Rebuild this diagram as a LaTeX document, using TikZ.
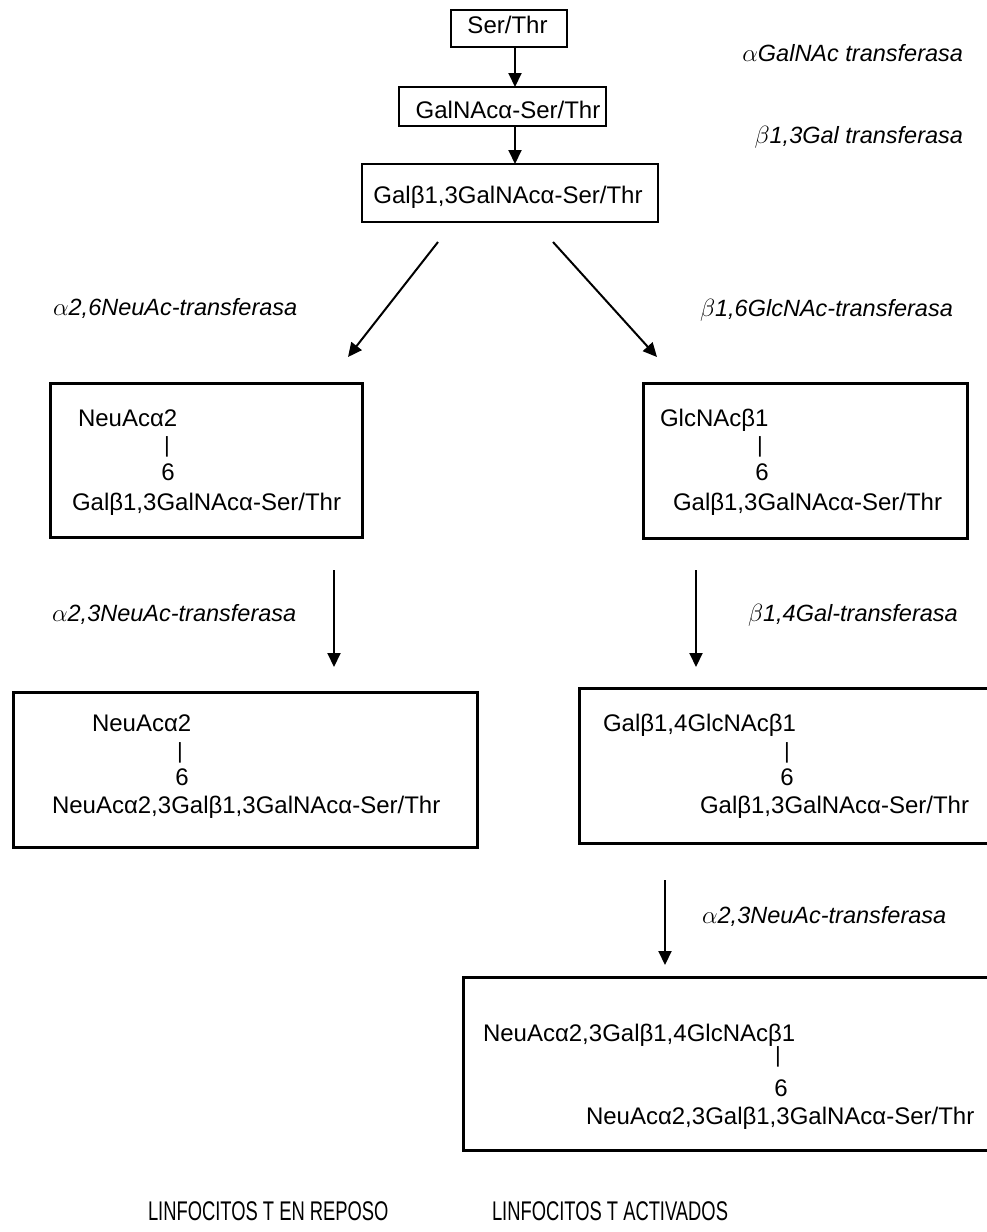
\documentclass[tikz,border=0pt]{standalone}
\usepackage{fontspec}
\usepackage{graphicx}
\setmainfont{Liberation Sans}
\usetikzlibrary{arrows.meta}
\begin{document}
\begin{tikzpicture}[x=1pt,y=-1pt,
  every node/.style={inner sep=0pt, outer sep=0pt, font=\fontsize{24}{28}\selectfont},
  smallbox/.style={draw, line width=1.5pt},
  bigbox/.style={draw, line width=3pt},
  arr/.style={line width=2pt, -{Triangle[length=14pt,width=13pt]}},
  lbl/.style={font=\fontsize{23.5}{28}\selectfont\itshape},
  txt/.style={anchor=base west},
  ctxt/.style={anchor=base},
  bar/.style={font=\fontsize{22}{24}\selectfont, anchor=center},
  cond/.style={anchor=base west, font=\fontsize{27}{30}\selectfont},
]
\useasboundingbox (0,0) rectangle (986,1232);

% top boxes
\node[smallbox, minimum width=116pt, minimum height=37pt] (s1) at (509,28.5) {};
\node[ctxt] (s1t) at (507.5,33.5) {Ser/Thr};
\node[smallbox, minimum width=207pt, minimum height=39pt] (s2) at (502.5,106.5) {};
\node[ctxt] (s2t) at (508,118.5) {GalNAcα-Ser/Thr};
\node[smallbox, minimum width=296pt, minimum height=58pt] (s3) at (510,193) {};
\node[ctxt] (s3t) at (508,203.5) {Galβ1,3GalNAcα-Ser/Thr};

\draw[arr] ([xshift=6pt]s1.south) -- ([xshift=6pt]s1.south |- s2.north);
\draw[arr] ([xshift=12.5pt]s2.south) -- ([xshift=12.5pt]s2.south |- s3.north);

\node[lbl, anchor=base east] (l1) at (963,61) {$\alpha$GalNAc transferasa};
\node[lbl, anchor=base east] (l2) at (963,143) {$\beta$1,3Gal transferasa};

% diagonal arrows
\coordinate (dl1) at (438,242);
\coordinate (dl2) at (348,357);
\coordinate (dr1) at (553,242);
\coordinate (dr2) at (657,357);
\draw[arr] (dl1) -- (dl2);
\draw[arr] (dr1) -- (dr2);
\node[lbl, anchor=base west] (l3) at (53,315) {$\alpha$2,6NeuAc-transferasa};
\node[lbl, anchor=base west] (l4) at (700,316) {$\beta$1,6GlcNAc-transferasa};

% second row
\node[bigbox, minimum width=312pt, minimum height=154pt] (b1) at (206,460) {};
\node[txt] (b1a) at (78,426.5) {NeuAcα2};
\node[bar] (b1b) at (167,447) {|};
\node[ctxt] (b1c) at (168,480.5) {6};
\node[txt] (b1d) at (72,510.5) {Galβ1,3GalNAcα-Ser/Thr};

\node[bigbox, minimum width=324pt, minimum height=155pt] (b2) at (805,460.5) {};
\node[txt] (b2a) at (660,426.5) {GlcNAcβ1};
\node[bar] (b2b) at (760,447) {|};
\node[ctxt] (b2c) at (762,480.5) {6};
\node[txt] (b2d) at (673,510.5) {Galβ1,3GalNAcα-Ser/Thr};

% vertical arrows
\coordinate (vl1) at (334,570);
\coordinate (vl2) at (334,667);
\coordinate (vr1) at (696,570);
\coordinate (vr2) at (696,667);
\draw[arr] (vl1) -- (vl2);
\draw[arr] (vr1) -- (vr2);
\node[lbl, anchor=base west] (l5) at (52,621) {$\alpha$2,3NeuAc-transferasa};
\node[lbl, anchor=base west] (l6) at (748,621) {$\beta$1,4Gal-transferasa};

% third row
\node[bigbox, minimum width=464pt, minimum height=155pt] (b3) at (245,769.5) {};
\node[txt] (b3a) at (92,731.5) {NeuAcα2};
\node[bar] (b3b) at (180,753) {|};
\node[ctxt] (b3c) at (182,785.5) {6};
\node[txt] (b3d) at (52,813.5) {NeuAcα2,3Galβ1,3GalNAcα-Ser/Thr};

\node[bigbox, minimum width=411pt, minimum height=155pt] (b4) at (784.5,765.5) {};
\node[txt] (b4a) at (603,731.5) {Galβ1,4GlcNAcβ1};
\node[bar] (b4b) at (787,753) {|};
\node[ctxt] (b4c) at (787,785.5) {6};
\node[txt] (b4d) at (700,813.5) {Galβ1,3GalNAcα-Ser/Thr};

\coordinate (vb1) at (665,880);
\coordinate (vb2) at (665,965);
\draw[arr] (vb1) -- (vb2);
\node[lbl, anchor=base west] (l7) at (702,923) {$\alpha$2,3NeuAc-transferasa};

% last box
\node[bigbox, minimum width=527pt, minimum height=173pt] (b5) at (726.5,1063.5) {};
\node[txt] (b5a) at (483,1041.5) {NeuAcα2,3Galβ1,4GlcNAcβ1};
\node[bar] (b5b) at (778,1057) {|};
\node[ctxt] (b5c) at (781,1096.5) {6};
\node[txt] (b5d) at (586,1124.5) {NeuAcα2,3Galβ1,3GalNAcα-Ser/Thr};

% bottom captions
\node[cond] (c1) at (148,1220) {\scalebox{0.68}[1]{LINFOCITOS T EN REPOSO}};
\node[cond] (c2) at (492,1220) {\scalebox{0.68}[1]{LINFOCITOS T ACTIVADOS}};
\end{tikzpicture}
\end{document}
